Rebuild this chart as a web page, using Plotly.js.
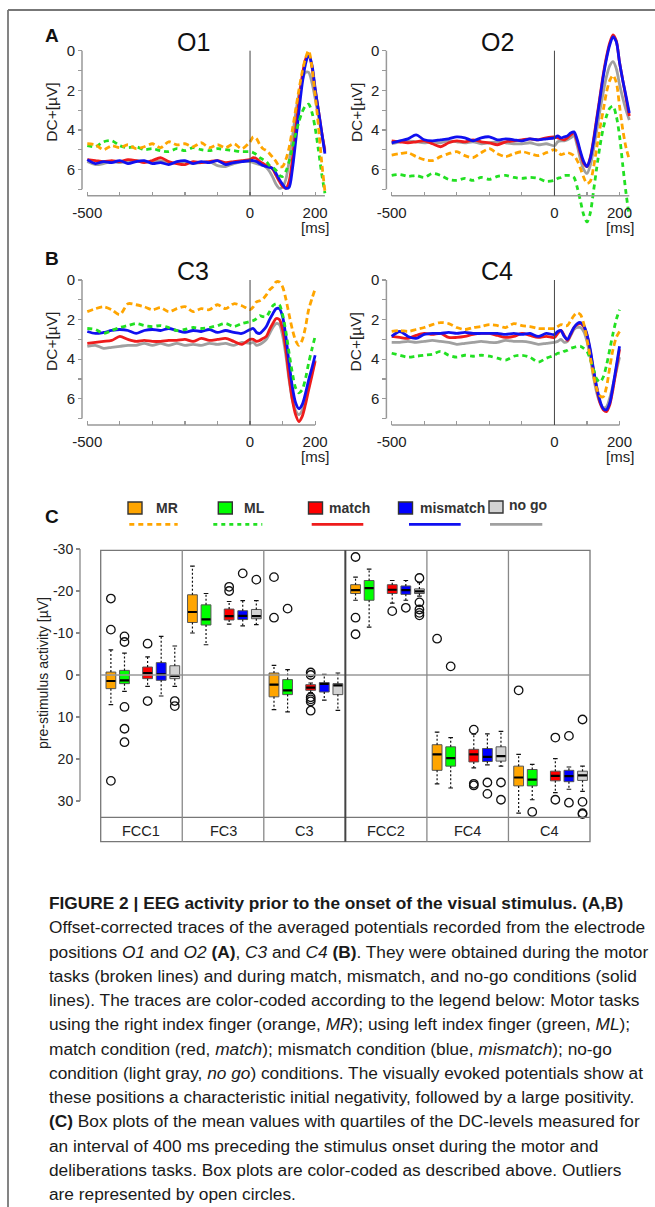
<!DOCTYPE html>
<html><head><meta charset="utf-8">
<script src="https://cdn.plot.ly/plotly-3.0.1.min.js"></script>
<style>html,body{margin:0;padding:0;background:#fff;overflow:hidden}#chart{width:655px;height:1207px;}</style>
</head><body><div id="chart"></div>
<script>
// ---------- DATA: traces (µV, plotted with positive values downward) ----------
const timeA = [-500,-475,-450,-425,-400,-375,-350,-325,-300,-275,-250,-225,-200,-175,-150,-125,-100,-75,-50,-25,0,10,20,30,40,50,60,70,80,90,100,110,120,130,140,150,160,170,180,190,200,210,220,230];
const timeB = [-500,-475,-450,-425,-400,-375,-350,-325,-300,-275,-250,-225,-200,-175,-150,-125,-100,-75,-50,-25,0,10,20,30,40,50,60,70,80,90,100,110,120,130,140,150,160,170,180,190,200];

const o1_MR = [4.7,4.75,5.0,4.8,4.9,4.75,4.95,4.85,4.7,4.9,4.6,4.75,4.7,4.85,4.65,4.9,4.75,4.9,4.7,4.95,4.6,4.35,4.45,4.75,4.95,5.05,5.2,5.4,5.6,5.85,5.85,5.5,4.9,4.0,3.0,2.0,1.1,0.4,0.0,0.8,2.2,3.8,5.6,7.1];
const o1_ML = [4.8,4.85,4.6,4.55,4.8,4.9,4.85,5.0,4.95,5.05,5.1,4.95,5.05,4.9,5.0,5.05,4.95,5.0,5.05,5.1,5.1,5.15,5.25,5.4,5.5,5.6,5.8,5.9,6.05,6.3,6.35,6.1,5.6,4.9,4.2,3.6,3.1,2.8,2.7,3.1,3.9,5.0,6.2,7.2];
const o1_match = [5.5,5.55,5.6,5.55,5.6,5.5,5.55,5.65,5.55,5.4,5.6,5.7,5.75,5.6,5.65,5.6,5.55,5.65,5.6,5.55,5.5,5.4,5.45,5.6,5.7,5.8,5.85,6.0,6.3,6.6,6.85,6.95,6.6,5.5,4.0,2.6,1.3,0.45,0.15,0.8,2.0,3.0,4.1,5.1];
const o1_mismatch = [5.5,5.7,5.6,5.65,5.55,5.7,5.6,5.55,5.7,5.65,5.75,5.6,5.55,5.7,5.6,5.65,5.55,5.75,5.65,5.6,5.55,5.55,5.6,5.7,5.8,5.85,5.9,5.95,6.2,6.5,6.75,6.95,6.9,6.0,4.6,3.1,1.7,0.7,0.2,0.7,1.9,3.0,4.1,5.2];
const o1_nogo = [5.6,5.75,5.7,5.6,5.65,5.6,5.55,5.6,5.65,5.55,5.7,5.65,5.6,5.7,5.65,5.6,5.8,5.85,5.7,5.6,5.6,5.65,5.7,5.75,5.8,5.9,6.1,6.4,6.75,6.95,6.9,6.5,5.6,4.4,3.2,2.2,1.5,1.1,1.1,1.6,2.4,3.3,4.2,5.0];

const o2_MR = [5.27,5.2,5.15,5.35,5.5,5.55,5.35,5.2,5.1,5.3,5.4,5.15,4.95,5.2,5.35,5.2,5.1,5.2,5.3,5.15,5.0,5.1,5.25,5.2,5.15,5.2,5.3,5.55,5.95,6.4,6.7,6.6,5.9,4.9,3.9,3.0,2.1,1.5,1.25,1.6,2.8,4.0,4.9,5.5];
const o2_ML = [6.3,6.25,6.35,6.3,6.4,6.2,6.3,6.5,6.55,6.45,6.55,6.4,6.5,6.35,6.3,6.4,6.45,6.4,6.45,6.6,6.55,6.45,6.4,6.3,6.3,6.3,6.4,6.9,7.6,8.3,8.65,8.2,7.1,5.9,4.8,3.9,3.3,2.9,2.8,3.3,4.3,5.8,7.2,8.4];
const o2_match = [4.55,4.6,4.65,4.6,4.55,4.7,4.85,4.65,4.55,4.6,4.5,4.6,4.65,4.75,4.6,4.55,4.5,4.45,4.5,4.4,4.35,4.4,4.45,4.5,4.4,4.25,4.15,4.6,5.2,5.7,5.85,5.4,4.5,3.4,2.3,1.2,0.3,-0.4,-0.8,-0.5,0.6,1.5,2.4,3.3];
const o2_mismatch = [4.65,4.55,4.45,4.25,4.5,4.55,4.5,4.45,4.35,4.4,4.55,4.4,4.35,4.5,4.45,4.5,4.55,4.45,4.5,4.45,4.4,4.3,4.4,4.35,4.3,4.15,4.1,4.5,5.1,5.6,5.85,5.45,4.6,3.5,2.4,1.3,0.4,-0.3,-0.7,-0.45,0.6,1.5,2.3,3.15];
const o2_nogo = [4.7,4.6,4.55,4.6,4.65,4.6,4.65,4.55,4.6,4.65,4.6,4.7,4.65,4.6,4.65,4.7,4.7,4.65,4.75,4.7,4.8,4.6,4.55,4.55,4.5,4.4,4.3,4.8,5.5,6.0,6.2,5.8,5.0,4.0,3.0,2.1,1.3,0.75,0.55,0.9,1.7,2.4,3.0,3.5];

const c3_MR = [1.6,1.45,1.35,1.5,1.75,1.2,1.25,1.35,1.5,1.4,1.6,1.45,1.35,1.6,1.45,1.5,1.25,1.45,1.2,1.3,1.5,1.35,1.1,1.05,0.95,0.75,0.5,0.35,0.1,0.1,0.35,0.95,1.75,2.5,3.05,3.3,3.05,2.4,1.5,0.95,0.45];
const c3_ML = [2.45,2.5,2.7,2.55,2.4,2.3,2.2,2.3,2.35,2.3,2.4,2.55,2.5,2.4,2.45,2.4,2.3,2.2,2.35,2.2,2.1,2.05,1.95,1.8,1.85,1.85,1.6,1.3,1.2,1.25,1.75,2.6,3.7,4.7,5.45,5.7,5.55,5.0,4.2,3.5,2.85];
const c3_match = [3.2,3.15,3.1,3.05,2.85,3.0,3.1,3.05,3.1,3.1,3.05,3.05,3.0,3.1,2.95,3.05,3.0,2.95,3.1,3.25,3.0,3.0,3.1,3.05,2.95,2.85,2.5,2.2,1.95,2.0,2.5,3.5,4.9,6.05,6.8,7.15,6.9,6.3,5.55,4.85,4.1];
const c3_mismatch = [2.6,2.7,2.65,2.55,2.5,2.55,2.7,2.55,2.5,2.55,2.45,2.55,2.65,2.55,2.6,2.5,2.65,2.55,2.65,2.7,2.5,2.45,2.65,2.7,2.55,2.35,2.0,1.7,1.45,1.45,1.85,2.85,4.2,5.4,6.2,6.5,6.3,5.75,5.05,4.45,3.8];
const c3_nogo = [3.35,3.3,3.45,3.4,3.35,3.3,3.3,3.2,3.3,3.2,3.3,3.2,3.3,3.25,3.3,3.2,3.25,3.2,3.3,3.15,3.2,3.15,3.3,3.25,3.15,3.0,2.7,2.4,2.2,2.25,2.8,3.8,5.05,6.05,6.6,6.8,6.6,6.05,5.4,4.7,4.05];

const c4_MR = [2.6,2.55,2.6,2.5,2.4,2.25,2.15,2.2,2.4,2.5,2.4,2.35,2.25,2.3,2.4,2.2,2.3,2.35,2.45,2.45,2.45,2.35,2.25,2.3,2.3,2.05,1.8,1.65,1.75,2.2,3.0,3.9,4.8,5.5,5.85,5.9,5.4,4.4,3.5,2.9,2.6];
const c4_ML = [3.7,3.8,3.9,3.85,3.8,3.75,3.6,3.8,3.9,3.8,3.85,3.8,3.85,3.95,4.05,3.85,3.8,3.9,4.15,3.95,3.8,3.7,3.7,3.6,3.55,3.45,3.4,3.35,3.35,3.45,3.6,4.0,4.5,5.0,5.15,4.9,4.3,3.5,2.7,2.0,1.5];
const c4_match = [2.85,2.9,2.95,2.8,2.7,2.75,2.7,2.9,2.9,2.85,2.75,2.7,2.7,2.8,2.9,2.85,2.7,2.8,2.9,2.85,2.9,2.7,2.55,2.8,3.05,2.75,2.4,2.25,2.2,2.35,2.8,3.6,4.6,5.5,6.2,6.55,6.65,6.3,5.5,4.5,3.5];
const c4_mismatch = [2.85,2.6,2.85,2.95,2.75,2.7,2.7,2.65,2.7,2.65,2.7,2.7,2.7,2.7,2.75,2.7,2.75,2.7,2.85,2.7,2.75,2.6,2.55,2.85,3.0,2.7,2.4,2.2,2.15,2.3,2.75,3.5,4.5,5.4,6.1,6.5,6.55,6.2,5.35,4.35,3.35];
const c4_nogo = [3.15,3.15,3.1,3.15,3.1,3.05,3.1,3.15,3.25,3.2,3.15,3.1,3.15,3.15,3.05,3.1,3.1,3.15,3.25,3.2,3.15,3.1,3.0,3.15,3.1,2.8,2.5,2.4,2.4,2.6,3.1,3.9,4.9,5.7,6.2,6.45,6.4,5.95,5.3,4.6,3.9];

const xTickVals = [-500,-400,-300,-200,-100,0,100,200];
const xTickText = ['-500','','','','','0','','200'];
const yTickVals = [0,1,2,3,4,5,6,7];
const yTickText = ['0','','2','','4','','6',''];

// ---------- DATA: box plots (pre-stimulus activity, µV) ----------
const boxPanels = ['FCC1','FC3','C3','FCC2','FC4','C4'];
const seriesNames = ['MR','ML','match','mismatch','no go'];

const mr_q1  = [-0.7,-19.1,-0.48,-21.5,16.6,21.7];
const mr_med = [1.43,-15.0,2.3,-20.2,18.9,24.4];
const mr_q3  = [3.25,-12.5,5.2,-19.4,22.7,26.4];
const mr_lo  = [-6.0,-25.9,-2.3,-23.3,13.6,18.9];
const mr_hi  = [7.06,-10.0,8.25,-17.8,25.9,32.9];
const mr_out = [[-18.2,-10.8,25.2],[],[-23.3,-13.65],[-28.1,-13.65,-9.7],[-8.65],[3.65]];

const ml_q1  = [-1.1,-16.7,1.1,-22.5,17.1,22.5];
const ml_med = [1.3,-13.25,3.64,-20.7,19.8,24.9];
const ml_q3  = [2.06,-11.9,4.67,-17.8,21.7,26.4];
const ml_lo  = [-5.2,-19.4,-1.3,-25.2,14.9,21.3];
const ml_hi  = [3.9,-7.2,8.8,-11.4,26.9,29.7];
const ml_out = [[-9.2,-7.86,7.6,12.8,16.0],[],[-15.8],[],[-2.06],[32.6]];

const match_q1  = [-1.9,-15.7,2.3,-21.5,17.7,22.9];
const match_med = [-0.48,-14.0,3.0,-20.3,18.9,24.0];
const match_q3  = [0.87,-13.1,3.64,-19.4,20.7,25.2];
const match_lo  = [-4.3,-17.5,1.9,-22.5,14.1,19.9];
const match_hi  = [2.7,-12.1,4.2,-17.1,22.1,28.0];
const match_out = [[-7.46,6.2],[-21.0,-20.0],[-0.6,0.0,5.3,5.8,6.3,8.5],[-15.2],[13.0,25.9,26.3],[14.9,29.7]];

const mismatch_q1  = [-2.94,-15.3,1.8,-21.2,17.5,22.7];
const mismatch_med = [-0.16,-14.1,2.14,-20.2,19.5,24.1];
const mismatch_q3  = [1.27,-13.2,4.05,-19.2,20.6,25.4];
const mismatch_lo  = [-9.2,-17.7,-0.17,-22.5,14.0,21.9];
const mismatch_hi  = [5.0,-11.7,6.0,-17.8,21.4,27.2];
const mismatch_out = [[],[-24.2],[],[-16.0],[25.6,28.3],[14.5,30.4]];

const nogo_q1  = [-2.2,-15.6,2.05,-20.5,17.1,22.9];
const nogo_med = [0.24,-14.0,2.45,-19.9,19.3,23.9];
const nogo_q3  = [0.87,-13.4,4.67,-19.4,20.5,25.1];
const nogo_lo  = [-6.9,-17.7,-0.48,-22.0,13.4,21.7];
const nogo_hi  = [2.7,-12.0,8.4,-18.8,21.7,27.7];
const nogo_out = [[6.2,7.4],[-22.7],[],[-23.1,-17.3,-15.6,-14.8,-14.2],[25.6,29.7],[10.6,30.2,32.9,33.1]];

const boxTickVals = [-30,-20,-10,0,10,20,30];
const boxTickText = ['-30','-20','-10','0','10','20','30'];

// ---------- STYLE ----------
const W = 655, H = 1207;
const FONT = 'Liberation Sans, Arial, Helvetica, sans-serif';
const lineColors = ['#FFA500','#22E022','#EE1C1C','#1010F0','#A0A0A0'];
const boxColors  = ['#FFA500','#00FF00','#FF0000','#0000FF','#D3D3D3'];
const dashes = ['6px,3.5px','5px,4px','solid','solid','solid'];
const px = v => v / W;
const py = v => 1 - v / H;

const traces = [];
const shapes = [];
const annotations = [];
const layout = {
  width: W, height: H, margin: {l:0,r:0,t:0,b:0},
  paper_bgcolor: '#fff', plot_bgcolor: 'rgba(0,0,0,0)',
  showlegend: false, font: {family: FONT, color: '#222'},
  shapes, annotations
};

// page frame
shapes.push({type:'line', xref:'paper', yref:'paper', x0:px(8), x1:px(655), y0:py(10), y1:py(10), line:{color:'#777', width:1.8}});
shapes.push({type:'line', xref:'paper', yref:'paper', x0:px(8), x1:px(8), y0:py(10), y1:py(1207), line:{color:'#777', width:1.8}});

// ---------- line panels ----------
const PXMS = 0.3255, PXUV = 19.8;
const linePanels = [
  {title:'O1', n:'', t:timeA, data:[o1_MR,o1_ML,o1_match,o1_mismatch,o1_nogo], left:80, y0:50.7, tend:230},
  {title:'O2', n:'2', t:timeA, data:[o2_MR,o2_ML,o2_match,o2_mismatch,o2_nogo], left:384.4, y0:50.7, tend:230},
  {title:'C3', n:'3', t:timeB, data:[c3_MR,c3_ML,c3_match,c3_mismatch,c3_nogo], left:80, y0:280, tend:200},
  {title:'C4', n:'4', t:timeB, data:[c4_MR,c4_ML,c4_match,c4_mismatch,c4_nogo], left:384.4, y0:280, tend:200}
];
const drawOrder = [4,2,3,1,0];
linePanels.forEach(p => {
  const xr = [-522.4, -522.4 + 250/PXMS];
  const yTopPx = p.y0 - 1*PXUV, yBotPx = p.y0 + 9.5*PXUV;
  const yAxisPx = p.left + 2;
  const xAxisPy = p.y0 + 145;
  layout['xaxis'+p.n] = {
    domain:[px(p.left), px(p.left+250)], range:xr, anchor:'free', position:py(xAxisPy),
    showgrid:false, zeroline:false, showline:false,
    tickmode:'array', tickvals:xTickVals, ticktext:xTickText,
    ticks:'inside', ticklen:4, tickwidth:1.2, tickcolor:'#999',
    tickfont:{size:15, color:'#222', family:FONT}, ticklabelstandoff:6
  };
  layout['yaxis'+p.n] = {
    domain:[py(yBotPx), py(yTopPx)], range:[9.5,-1], anchor:'free', position:px(yAxisPx),
    showgrid:false, zeroline:false, showline:false,
    tickmode:'array', tickvals:yTickVals, ticktext:yTickText,
    ticks:'outside', ticklen:4, tickwidth:1.2, tickcolor:'#999',
    tickfont:{size:15, color:'#222', family:FONT}
  };
  const xa = 'x'+p.n, ya = 'y'+p.n;
  drawOrder.forEach(i => {
    traces.push({type:'scatter', mode:'lines', x:p.t, y:p.data[i], xaxis:xa, yaxis:ya,
      line:{color:lineColors[i], width:2.8, dash:dashes[i], shape:'spline', smoothing:0.8},
      name:seriesNames[i], hoverinfo:'skip'});
  });
  shapes.push({type:'line', xref:'paper', yref:ya, x0:px(yAxisPx), x1:px(yAxisPx), y0:0, y1:7, line:{color:'#999', width:1.5}});
  shapes.push({type:'line', xref:xa, yref:'paper', x0:-500, x1:p.tend, y0:py(xAxisPy), y1:py(xAxisPy), line:{color:'#999', width:1.5}});
  shapes.push({type:'line', xref:xa, yref:'paper', x0:0, x1:0, y0:py(xAxisPy), y1:py(p.y0), line:{color:'#444', width:1}});
  annotations.push({text:p.title, xref:'paper', yref:'paper', x:px(p.left+113), y:py(p.y0-9), xanchor:'center', yanchor:'middle', showarrow:false, font:{size:25, color:'#111', family:FONT}});
  annotations.push({text:'DC+[µV]', textangle:-90, xref:'paper', yref:'paper', x:px(p.left-28.5), y:py(p.y0+61.5), xanchor:'center', yanchor:'middle', showarrow:false, font:{size:15.5, color:'#222', family:FONT}});
  annotations.push({text:'[ms]', xref:xa, yref:'paper', x:200, y:py(p.y0+176.5), xanchor:'center', yanchor:'middle', showarrow:false, font:{size:15, color:'#222', family:FONT}});
});
annotations.push({text:'<b>A</b>', xref:'paper', yref:'paper', x:px(52), y:py(36), xanchor:'center', yanchor:'middle', showarrow:false, font:{size:19, color:'#111', family:FONT}});
annotations.push({text:'<b>B</b>', xref:'paper', yref:'paper', x:px(52), y:py(258), xanchor:'center', yanchor:'middle', showarrow:false, font:{size:19, color:'#111', family:FONT}});
annotations.push({text:'<b>C</b>', xref:'paper', yref:'paper', x:px(52), y:py(516), xanchor:'center', yanchor:'middle', showarrow:false, font:{size:19, color:'#111', family:FONT}});

// ---------- legend ----------
const legSq = [135, 225.3, 315.5, 405.5, 496];
const legTx = [154, 242.3, 327.3, 418.3, 507.3];
const legLn = [[129.3,177.7],[213.3,262.3],[311.7,363.3],[409,460.7],[490,542.3]];
seriesNames.forEach((nm, i) => {
  const cy = i === 4 ? 507 : 508;
  shapes.push({type:'rect', xref:'paper', yref:'paper', x0:px(legSq[i]-7), x1:px(legSq[i]+7), y0:py(cy+6), y1:py(cy-6), fillcolor:boxColors[i], line:{color:'#333', width:1.4}});
  shapes.push({type:'line', xref:'paper', yref:'paper', x0:px(legLn[i][0]), x1:px(legLn[i][1]), y0:py(524.3), y1:py(524.3), line:{color:lineColors[i], width:2.8, dash:i<2 ? (i===0?'5px,4px':'4px,4px') : 'solid'}});
  annotations.push({text:'<b>'+nm+'</b>', xref:'paper', yref:'paper', x:px(legTx[i]), y:py(i===4 ? 505 : 508.5), xanchor:'left', yanchor:'middle', showarrow:false, font:{size:14, color:'#333', family:FONT}});
});

// ---------- box plot panel ----------
const BX = 'x5', BY = 'y5';
layout.xaxis5 = {domain:[px(100.7), px(590)], range:[0,36], anchor:'y5', visible:false, showgrid:false, zeroline:false};
layout.yaxis5 = {domain:[py(817.8), py(549)], range:[34,-30], anchor:'free', position:px(80),
  showgrid:false, zeroline:false, showline:false, tickmode:'array', tickvals:boxTickVals, ticktext:boxTickText,
  ticks:'outside', ticklen:4, tickwidth:1.2, tickcolor:'#888', tickfont:{size:14, color:'#222', family:FONT}};
annotations.push({text:'pre-stimulus activity [µV]', textangle:-90, xref:'paper', yref:'paper', x:px(43), y:py(673), xanchor:'center', yanchor:'middle', showarrow:false, font:{size:14, color:'#222', family:FONT}});
shapes.push({type:'line', xref:'paper', yref:BY, x0:px(80), x1:px(80), y0:-30, y1:30, line:{color:'#888', width:1.3}});
shapes.push({type:'rect', xref:'paper', yref:'paper', x0:px(100.7), x1:px(590), y0:py(841.7), y1:py(550.3), line:{color:'#777', width:1.3}, fillcolor:'rgba(0,0,0,0)'});
shapes.push({type:'line', xref:'paper', yref:'paper', x0:px(100.7), x1:px(590), y0:py(817.3), y1:py(817.3), line:{color:'#777', width:1.3}});
shapes.push({type:'line', xref:BX, yref:BY, x0:0, x1:36, y0:0, y1:0, line:{color:'#999', width:1.5}});
[6,12,18,24,30].forEach(d => {
  shapes.push({type:'line', xref:BX, yref:'paper', x0:d, x1:d, y0:py(841.7), y1:py(550.3), line:{color: d===18 ? '#444' : '#888', width: d===18 ? 2 : 1.3}});
});
boxPanels.forEach((nm, k) => {
  annotations.push({text:nm, xref:BX, yref:'paper', x:k*6+3, y:py(830.5), xanchor:'center', yanchor:'middle', showarrow:false, font:{size:14.5, color:'#222', family:FONT}});
});

const offsets = [0.75, 1.75, 3.45, 4.45, 5.45];
const BW = 0.72, CAP = 0.17;
const boxStats = [
  [mr_q1, mr_med, mr_q3, mr_lo, mr_hi, mr_out],
  [ml_q1, ml_med, ml_q3, ml_lo, ml_hi, ml_out],
  [match_q1, match_med, match_q3, match_lo, match_hi, match_out],
  [mismatch_q1, mismatch_med, mismatch_q3, mismatch_lo, mismatch_hi, mismatch_out],
  [nogo_q1, nogo_med, nogo_q3, nogo_lo, nogo_hi, nogo_out]
];
boxStats.forEach((st, s) => {
  const [q1, med, q3, lo, hi] = st;
  const wx = [], wy = [], cx = [], cy = [];
  boxPanels.forEach((_, k) => {
    const x = k*6 + offsets[s];
    wx.push(x, x, null, x, x, null); wy.push(q1[k], lo[k], null, q3[k], hi[k], null);
    cx.push(x-CAP, x+CAP, null, x-CAP, x+CAP, null); cy.push(lo[k], lo[k], null, hi[k], hi[k], null);
  });
  traces.push({type:'scatter', mode:'lines', x:wx, y:wy, xaxis:BX, yaxis:BY, line:{color:'#111', width:1.2, dash:'2px,2px'}, hoverinfo:'skip'});
  traces.push({type:'scatter', mode:'lines', x:cx, y:cy, xaxis:BX, yaxis:BY, line:{color:'#111', width:1.2}, hoverinfo:'skip'});
});
boxStats.forEach((st, s) => {
  const [q1, med, q3] = st;
  traces.push({type:'box', xaxis:BX, yaxis:BY, x:boxPanels.map((_, k) => k*6 + offsets[s]),
    q1:q1, median:med, q3:q3, lowerfence:q1, upperfence:q3, width:BW, whiskerwidth:0,
    fillcolor:boxColors[s], line:{color:'#555', width:1}, boxpoints:false, hoverinfo:'skip', name:seriesNames[s]});
});
boxStats.forEach((st, s) => {
  const med = st[1], out = st[5];
  const mx = [], my = [], ox = [], oy = [];
  boxPanels.forEach((_, k) => {
    const x = k*6 + offsets[s];
    mx.push(x-BW/2+0.03, x+BW/2-0.03, null); my.push(med[k], med[k], null);
    out[k].forEach(v => { ox.push(x); oy.push(v); });
  });
  traces.push({type:'scatter', mode:'lines', x:mx, y:my, xaxis:BX, yaxis:BY, line:{color:'#000', width:2.2}, hoverinfo:'skip'});
  traces.push({type:'scatter', mode:'markers', x:ox, y:oy, xaxis:BX, yaxis:BY, marker:{symbol:'circle-open', size:8.5, color:'#111', line:{width:1.3}}, cliponaxis:false, hoverinfo:'skip'});
});

// ---------- caption ----------
const captionLines = [
  '<b>FIGURE 2 | EEG activity prior to the onset of the visual stimulus. (A,B)</b>',
  'Offset-corrected traces of the averaged potentials recorded from the electrode',
  'positions <i>O1</i> and <i>O2</i> <b>(A)</b>, <i>C3</i> and <i>C4</i> <b>(B)</b>. They were obtained during the motor',
  'tasks (broken lines) and during match, mismatch, and no-go conditions (solid',
  'lines). The traces are color-coded according to the legend below: Motor tasks',
  'using the right index finger (orange, <i>MR</i>); using left index finger (green, <i>ML</i>);',
  'match condition (red, <i>match</i>); mismatch condition (blue, <i>mismatch</i>); no-go',
  'condition (light gray, <i>no go</i>) conditions. The visually evoked potentials show at',
  'these positions a characteristic initial negativity, followed by a large positivity.',
  '<b>(C)</b> Box plots of the mean values with quartiles of the DC-levels measured for',
  'an interval of 400 ms preceding the stimulus onset during the motor and',
  'deliberations tasks. Box plots are color-coded as described above. Outliers',
  'are represented by open circles.'
];
captionLines.forEach((ln, i) => {
  annotations.push({text:ln, xref:'paper', yref:'paper', x:px(47), y:py(903 + i*24.25), xanchor:'left', yanchor:'middle', showarrow:false, align:'left', font:{size:17.3, color:'#1a1a1a', family:FONT}});
});

Plotly.newPlot('chart', traces, layout, {staticPlot:true, displayModeBar:false});
</script></body></html>
